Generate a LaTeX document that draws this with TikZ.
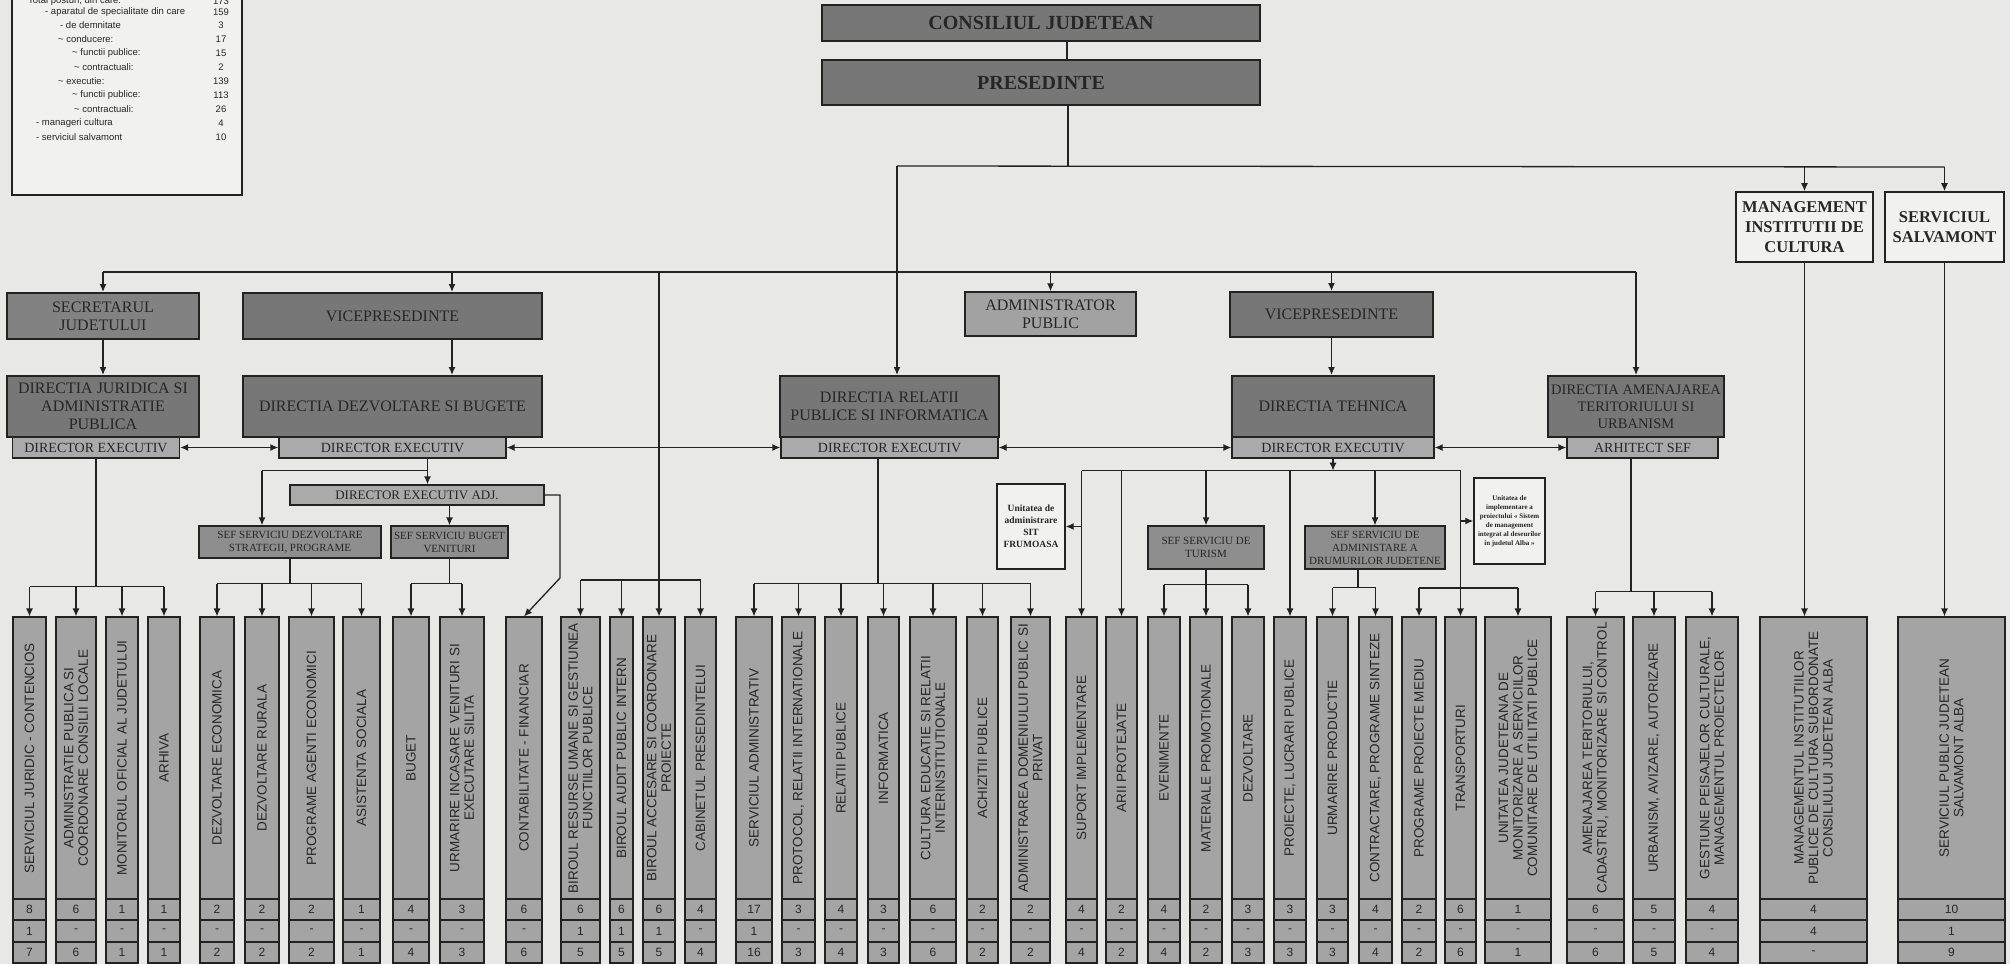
\documentclass[tikz,border=0pt]{standalone}
\usepackage{fontspec}
\setmainfont{Liberation Serif}
\setsansfont{Liberation Sans}
\usetikzlibrary{arrows.meta}

\definecolor{bgpaper}{HTML}{E8E8E6}
\definecolor{boxdark}{HTML}{777777}
\definecolor{boxsef}{HTML}{8E8E8E}
\definecolor{boxlight}{HTML}{AAAAAA}
\definecolor{colfill}{HTML}{A4A4A4}
\definecolor{paperbox}{HTML}{F1F1F0}
\definecolor{inkline}{HTML}{222222}
\definecolor{inktext}{HTML}{262626}

\begin{document}
\begin{tikzpicture}[x=1pt,y=-1pt,
  every node/.style={inner sep=1pt,text=inktext},
  link/.style={draw=inkline,line width=1.3pt},
  dbox/.style={draw=inkline,line width=2pt,fill=boxdark,align=center,
    font=\fontsize{16}{18}\selectfont},
  debox/.style={draw=inkline,line width=1.3pt,fill=boxlight,minimum height=21pt,
    font=\fontsize{14}{16}\selectfont},
  sefbox/.style={draw=inkline,line width=1.3pt,fill=boxsef,align=center,
    font=\fontsize{11}{13}\selectfont},
  wbox/.style={draw=inkline,line width=1.6pt,fill=paperbox,align=center},
  colbox/.style={draw=inkline,line width=1.1pt,fill=colfill,inner sep=0pt},
  coltext/.style={font=\fontsize{13.5}{14.5}\sffamily,align=center,inner sep=0pt},
  cellbox/.style={draw=inkline,line width=1.1pt,fill=colfill,inner sep=0pt,
    font=\fontsize{12}{12}\sffamily},
  legtext/.style={font=\fontsize{9.5}{11}\sffamily,inner sep=0pt},
  >={Latex[length=8pt,width=7pt]}]

\useasboundingbox[fill=bgpaper] (0,0) rectangle (2010,964);

% legend
\draw[draw=inkline,line width=1.6pt,fill=paperbox] (12,-10) rectangle (242,195);
\foreach \lx/\ly/\ltxt/\lnum [count=\j] in {
    28/1/{Total posturi, din care:}/173,
    45/12/{- aparatul de specialitate din care}/159,
    60/25/{- de demnitate}/3,
    58/39/{\textasciitilde{} conducere:}/17,
    72/53/{\textasciitilde{} functii publice:}/15,
    74/67/{\textasciitilde{} contractuali:}/2,
    58/81/{\textasciitilde{} executie:}/139,
    72/95/{\textasciitilde{} functii publice:}/113,
    74/109/{\textasciitilde{} contractuali:}/26,
    36/123/{- manageri cultura}/4,
    36/137/{- serviciul salvamont}/10}{
  \node[legtext,anchor=west] (lg\j) at (\lx,\ly) {\ltxt};
  \node[legtext] (ln\j) at (221,\ly) {\lnum};
}

% top of the chart
\node[dbox,font=\fontsize{20}{22}\selectfont\bfseries,minimum width=438pt,minimum height=36pt]
  (cj) at (1041,23) {CONSILIUL JUDETEAN};
\node[dbox,font=\fontsize{20}{22}\selectfont\bfseries,minimum width=438pt,minimum height=45pt]
  (pres) at (1041,82.5) {PRESEDINTE};
\node[wbox,font=\fontsize{16.5}{20}\selectfont\bfseries,minimum width=137pt,minimum height=70pt]
  (mic) at (1804.5,227) {MANAGEMENT\\INSTITUTII DE\\CULTURA};
\node[wbox,font=\fontsize{16.5}{20}\selectfont\bfseries,minimum width=119pt,minimum height=70pt]
  (salv) at (1944.5,227) {SERVICIUL\\SALVAMONT};

% second level
\node[dbox,fill=boxdark!92!white,minimum width=192pt,minimum height=46pt] (sec) at (103,316) {SECRETARUL\\JUDETULUI};
\node[dbox,minimum width=299pt,minimum height=46pt] (vpl) at (392.5,316) {VICEPRESEDINTE};
\node[dbox,line width=1.4pt,fill=boxlight!95!black,minimum width=171pt,minimum height=44pt] (ap) at (1050.5,314) {ADMINISTRATOR\\PUBLIC};
\node[dbox,minimum width=203pt,minimum height=45pt] (vpr) at (1331.5,314.5) {VICEPRESEDINTE};

% directions
\node[dbox,minimum width=192pt,minimum height=61pt] (djap) at (103,406.5) {DIRECTIA JURIDICA SI\\ADMINISTRATIE\\PUBLICA};
\node[dbox,minimum width=299pt,minimum height=61pt] (ddsb) at (392.5,406.5) {DIRECTIA DEZVOLTARE SI BUGETE};
\node[dbox,minimum width=219pt,minimum height=61pt] (drpi) at (889.5,406.5) {DIRECTIA RELATII\\PUBLICE SI INFORMATICA};
\node[dbox,minimum width=202pt,minimum height=61pt] (dteh) at (1333,406.5) {DIRECTIA TEHNICA};
\node[dbox,font=\fontsize{14.5}{17}\selectfont,minimum width=176pt,minimum height=61pt] (datu) at (1636,406.5) {DIRECTIA AMENAJAREA\\TERITORIULUI SI\\URBANISM};

\node[debox,minimum width=167pt] (de1) at (96,447.5) {DIRECTOR EXECUTIV};
\node[debox,minimum width=227pt] (de2) at (392.5,447.5) {DIRECTOR EXECUTIV};
\node[debox,minimum width=217pt] (de3) at (889.5,447.5) {DIRECTOR EXECUTIV};
\node[debox,minimum width=202pt] (de4) at (1333,447.5) {DIRECTOR EXECUTIV};
\node[debox,minimum width=151pt] (arh) at (1642.5,447.5) {ARHITECT SEF};

% services
\node[debox,font=\fontsize{13}{15}\selectfont,minimum width=254pt,minimum height=20pt] (adj) at (417,495) {DIRECTOR EXECUTIV ADJ.};
\node[sefbox,minimum width=182pt,minimum height=32pt] (sefd) at (290,542) {SEF SERVICIU DEZVOLTARE\\STRATEGII, PROGRAME};
\node[sefbox,minimum width=117pt,minimum height=32pt] (sefb) at (449.5,542) {SEF SERVICIU BUGET\\VENITURI};
\node[sefbox,minimum width=116pt,minimum height=43pt] (seft) at (1206,547.5) {SEF SERVICIU DE\\TURISM};
\node[sefbox,minimum width=140pt,minimum height=43pt] (sefa) at (1375,547.5) {SEF SERVICIU DE\\ADMINISTARE A\\DRUMURILOR JUDETENE};
\node[wbox,line width=1.4pt,font=\fontsize{9.5}{12}\selectfont\bfseries,minimum width=68pt,minimum height=85pt]
  (sit) at (1031,526.5) {Unitatea de\\administrare\\SIT\\FRUMOASA};
\node[wbox,line width=1.4pt,font=\fontsize{7}{9}\selectfont\bfseries,minimum width=71pt,minimum height=86pt]
  (uip) at (1509.5,521) {Unitatea de\\implementare a\\proiectului « Sistem\\de management\\integrat al deseurilor\\in judetul Alba »};

% bottom columns with their three numbers
\foreach \xl/\xr/\txt/\na/\nb/\nc [count=\i] in {
    13/46/{SERVICIUL JURIDIC - CONTENCIOS}/8/1/7,
    56/96/{ADMINISTRATIE PUBLICA SI\\COORDONARE CONSILII LOCALE}/6/-/6,
    106/138/{MONITORUL OFICIAL AL JUDETULUI}/1/-/1,
    148/180/{ARHIVA}/1/-/1,
    200/234/{DEZVOLTARE ECONOMICA}/2/-/2,
    245/279/{DEZVOLTARE RURALA}/2/-/2,
    289/334/{PROGRAME AGENTI ECONOMICI}/2/-/2,
    343/380/{ASISTENTA SOCIALA}/1/-/1,
    393/429/{BUGET}/4/-/4,
    440/484/{URMARIRE INCASARE VENITURI SI\\EXECUTARE SILITA}/3/-/3,
    506/542/{CONTABILITATE - FINANCIAR}/6/-/6,
    561/600/{BIROUL RESURSE UMANE SI GESTIUNEA\\FUNCTIILOR PUBLICE}/6/1/5,
    610/633/{BIROUL AUDIT PUBLIC INTERN}/6/1/5,
    643/675/{BIROUL ACCESARE SI COORDONARE\\PROIECTE}/6/1/5,
    685/716/{CABINETUL PRESEDINTELUI}/4/-/4,
    736/772/{SERVICIUL ADMINISTRATIV}/17/1/16,
    782/815/{PROTOCOL, RELATII INTERNATIONALE}/3/-/3,
    825/857/{RELATII PUBLICE}/4/-/4,
    868/899/{INFORMATICA}/3/-/3,
    910/956/{CULTURA EDUCATIE SI RELATII\\INTERINSTITUTIONALE}/6/-/6,
    967/998/{ACHIZITII PUBLICE}/2/-/2,
    1011/1050/{ADMINISTRAREA DOMENIULUI PUBLIC SI\\PRIVAT}/2/-/2,
    1066/1097/{SUPORT IMPLEMENTARE}/4/-/4,
    1106/1137/{ARII PROTEJATE}/2/-/2,
    1148/1180/{EVENIMENTE}/4/-/4,
    1190/1222/{MATERIALE PROMOTIONALE}/2/-/2,
    1232/1264/{DEZVOLTARE}/3/-/3,
    1274/1306/{PROIECTE, LUCRARI PUBLICE}/3/-/3,
    1317/1348/{URMARIRE PRODUCTIE}/3/-/3,
    1359/1392/{CONTRACTARE, PROGRAME SINTEZE}/4/-/4,
    1402/1436/{PROGRAME PROIECTE MEDIU}/2/-/2,
    1445/1476/{TRANSPORTURI}/6/-/6,
    1485/1551/{UNITATEA JUDETEANA DE\\MONITORIZARE A SERVICIILOR\\COMUNITARE DE UTILITATI PUBLICE}/1/-/1,
    1567/1624/{AMENAJAREA TERITORIULUI,\\CADASTRU, MONITORIZARE SI CONTROL}/6/-/6,
    1633/1675/{URBANISM, AVIZARE, AUTORIZARE}/5/-/5,
    1686/1738/{GESTIUNE PEISAJELOR CULTURALE,\\MANAGEMENTUL PROIECTELOR}/4/-/4,
    1760/1867/{MANAGEMENTUL INSTITUTIILOR\\PUBLICE DE CULTURA SUBORDONATE\\CONSILIULUI JUDETEAN ALBA}/4/4/-,
    1898/2005/{SERVICIUL PUBLIC JUDETEAN\\SALVAMONT ALBA}/10/1/9}{
  \pgfmathsetmacro\xc{(\xl+\xr)/2}
  \pgfmathsetmacro\w{\xr-\xl}
  \node[colbox,minimum width=\w pt,minimum height=282pt] (c\i) at (\xc,758) {};
  \begin{scope}
    \clip (c\i.south west) rectangle (c\i.north east);
    \node[coltext,rotate=90] (l\i) at (c\i.center) {\txt};
  \end{scope}
  \node[cellbox,minimum width=\w pt,minimum height=21pt] (na\i) at (\xc,909.5) {\na};
  \node[cellbox,minimum width=\w pt,minimum height=22pt] (nb\i) at (\xc,931) {\nb};
  \node[cellbox,minimum width=\w pt,minimum height=21pt] (nc\i) at (\xc,952.5) {\nc};
}

% president and the upper bus
\draw[link] ([xshift=26pt]cj.south) -- ([xshift=26pt]pres.north);
\draw[link] ([xshift=27pt]pres.south) -- ++(0,61) coordinate (u0);
\coordinate (tr) at (897,166);
\draw[link] (tr) -- (u0 -| salv.north);
\draw[link,->] (u0 -| mic.north) -- (mic.north);
\draw[link,->] (u0 -| salv.north) -- (salv.north);
\draw[link,->] (tr) -- (tr |- drpi.north);
\draw[link,->] (mic.south) -- (mic.south |- c37.north);
\draw[link,->] (salv.south) -- (salv.south |- c38.north);

% main bus
\coordinate (mb) at (0,272);
\draw[link] (mb -| sec.north) -- (mb -| datu.north);
\draw[link,->] (mb -| sec.north) -- (sec.north);
\draw[link,->] (sec.south) -- (djap.north);
\coordinate (tv) at (452,272);
\draw[link,->] (tv) -- (tv |- vpl.north);
\draw[link,->] (vpl.south -| tv) -- (ddsb.north -| tv);
\draw[link,->] (mb -| ap.north) -- (ap.north);
\draw[link,->] (mb -| vpr.north) -- (vpr.north);
\draw[link,->] (vpr.south) -- (vpr.south |- dteh.north);
\draw[link,->] (mb -| datu.north) -- (datu.north);

% directors between them
\draw[link,<->] (de1.east) -- (de2.west);
\draw[link,<->] (de2.east) -- (de3.west);
\draw[link,<->] (de3.east) -- (de4.west);
\draw[link,<->] (de4.east) -- (arh.west);

% juridic
\draw[link] (de1.south) -- ++(0,128) coordinate (g1);
\draw[link] (g1 -| c1.north) -- (g1 -| c4.north);
\foreach \k in {1,...,4} \draw[link,->] (g1 -| c\k.north) -- (c\k.north);

% dezvoltare si bugete
\draw[link,->] ([xshift=35pt]de2.south) -- ([xshift=35pt]de2.south |- adj.north);
\draw[link] ([xshift=35pt]de2.south) ++(0,12) coordinate (dj) -- (dj -| 262,0);
\draw[link,->] (dj -| 262,0) -- (sefd.north -| 262,0);
\draw[link,->] (adj.south -| sefb.north) -- (sefb.north);
\coordinate (kink) at (560,578);
\draw[link,->] (adj.east) -| (kink) -- (c11.north);
\draw[link] (sefd.south) -- ++(0,25) coordinate (g2);
\draw[link] (g2 -| c5.north) -- (g2 -| c8.north);
\foreach \k in {5,...,8} \draw[link,->] (g2 -| c\k.north) -- (c\k.north);
\draw[link] (sefb.south) -- ++(0,25) coordinate (g3);
\draw[link] (g3 -| c9.north) -- (g3 -| c10.north);
\foreach \k in {9,10} \draw[link,->] (g3 -| c\k.north) -- (c\k.north);

% birouri under the president
\draw[link] (mb -| c14.north) -- ++(0,308) coordinate (g4);
\draw[link] (g4 -| c12.north) -- (g4 -| c15.north);
\foreach \k in {12,...,15} \draw[link,->] (g4 -| c\k.north) -- (c\k.north);

% relatii publice
\draw[link] ([xshift=-11.5pt]de3.south) -- ++(0,125) coordinate (g5);
\draw[link] (g5 -| c16.north) -- (g5 -| c22.north);
\foreach \k in {16,...,22} \draw[link,->] (g5 -| c\k.north) -- (c\k.north);

% tehnica
\draw[link,->] (de4.south) -- ++(0,12) coordinate (g6);
\draw[link] (g6 -| c23.north) -- (g6 -| c32.north);
\draw[link,->] (sit.east -| c23.north) -- (sit.east);
\draw[link,->] (uip.west -| c32.north) -- (uip.west);
\foreach \k in {23,24,28,32} \draw[link,->] (g6 -| c\k.north) -- (c\k.north);
\draw[link,->] (g6 -| seft.north) -- (seft.north);
\draw[link,->] (g6 -| sefa.north) -- (sefa.north);
\draw[link] (seft.south) -- ++(0,15) coordinate (g7);
\draw[link] (g7 -| c25.north) -- (g7 -| c27.north);
\foreach \k in {25,26,27} \draw[link,->] (g7 -| c\k.north) -- (c\k.north);
\draw[link] ([xshift=-17pt]sefa.south) -- ++(0,18) coordinate (g8);
\draw[link] (g8 -| c29.north) -- (g8 -| c30.north);
\foreach \k in {29,30} \draw[link,->] (g8 -| c\k.north) -- (c\k.north);
\coordinate (g9) at (c32.north |- 0,588);
\draw[link] (g9 -| c31.north) -- (g9 -| c33.north);
\foreach \k in {31,33} \draw[link,->] (g9 -| c\k.north) -- (c\k.north);

% amenajarea teritoriului
\draw[link] ([xshift=-11.5pt]arh.south) -- ++(0,133) coordinate (g10);
\draw[link] (g10 -| c34.north) -- (g10 -| c36.north);
\foreach \k in {34,35,36} \draw[link,->] (g10 -| c\k.north) -- (c\k.north);
\end{tikzpicture}
\end{document}
